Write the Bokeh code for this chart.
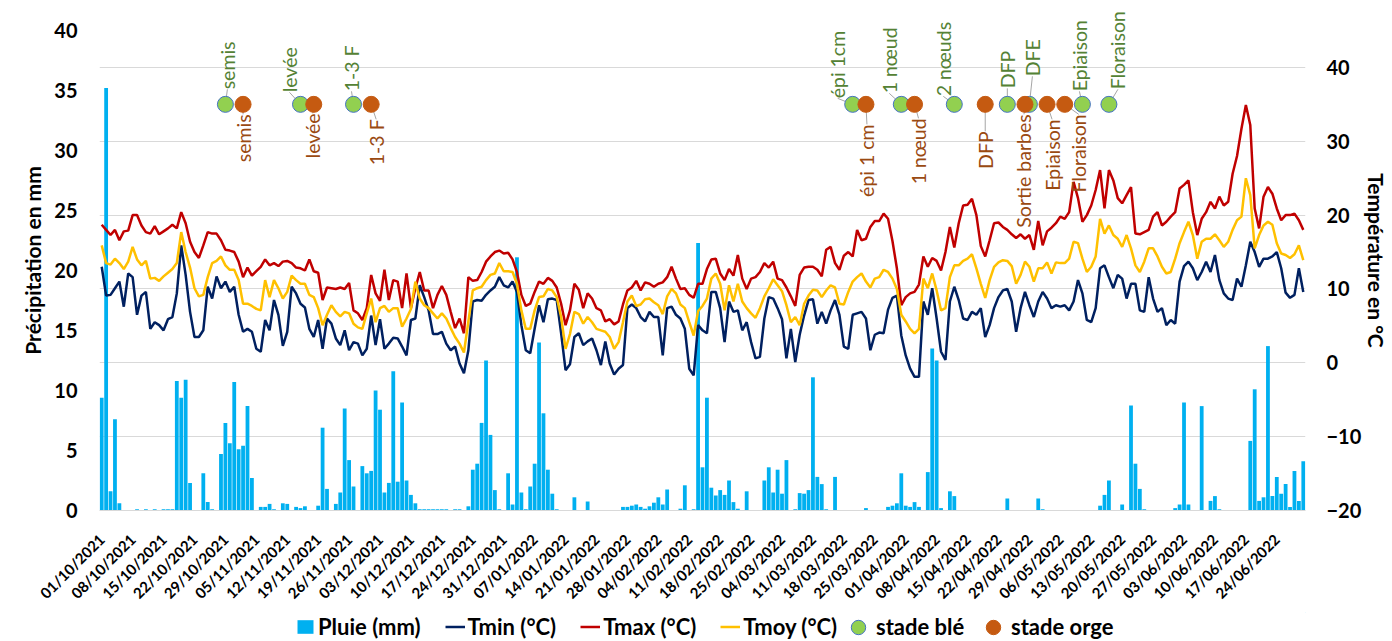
import pandas as pd
from math import pi
from bokeh.plotting import figure
from bokeh.layouts import column
from bokeh.models import (Range1d, LinearAxis, FixedTicker, Grid, Legend, LegendItem,
                          DatetimeTickFormatter)
from bokeh.embed import file_html
from bokeh.resources import INLINE
from bokeh.core.properties import value

# ---------------- data ----------------
dates = pd.date_range("2021-10-01", "2022-06-30", freq="D")

pluie = [9.4, 35.2, 1.6, 7.6, 0.6, 0, 0, 0, 0.1, 0, 0.1, 0, 0.1, 0, 0.1, 0.1, 0.1, 10.8, 9.4, 10.9,
         2.3, 0, 0, 3.1, 0.7, 0.1, 0, 4.7, 7.3, 5.6, 10.7, 5.1, 5.4, 8.7, 2.7, 0, 0.3, 0.3, 0.55, 0.1,
         0, 0.6, 0.55, 0, 0.3, 0.2, 0.35, 0, 0, 0.4, 6.9, 1.8, 0, 0.55, 1.5, 8.5, 4.2, 2.0, 0, 3.7,
         3.1, 3.3, 10.0, 8.4, 1.5, 2.3, 11.6, 2.4, 9.0, 2.5, 1.3, 0.6, 0.1, 0.1, 0.1, 0.1, 0.1, 0.1, 0.1, 0,
         0.1, 0.1, 0, 0.35, 3.4, 3.9, 7.3, 12.5, 6.3, 1.7, 0.1, 0, 3.1, 0.5, 21.1, 1.5, 0.1, 2.0, 3.9, 14.0,
         8.1, 3.4, 1.4, 0.1, 0, 0.05, 0, 1.1, 0, 0, 0.75, 0, 0, 0, 0, 0.05, 0.05, 0.05, 0.3, 0.3,
         0.4, 0.5, 0.3, 0.15, 0.35, 0.65, 1.1, 0.5, 1.75, 0, 0, 0.15, 2.1, 0, 0.1, 22.3, 3.6, 9.4, 1.9, 1.25,
         1.7, 1.3, 2.5, 0.7, 0.15, 0, 1.6, 0, 0, 0, 2.5, 3.6, 1.5, 3.4, 1.4, 4.2, 0, 0.1, 1.45, 1.4,
         1.7, 11.1, 2.8, 2.2, 0.1, 0, 2.8, 0, 0, 0, 0, 0, 0, 0.2, 0, 0, 0, 0, 0.3, 0.4,
         0.6, 3.1, 0.4, 0.3, 0.7, 0.3, 0, 3.2, 13.5, 12.5, 0.2, 0, 1.6, 1.2, 0.05, 0, 0, 0.05, 0.05, 0,
         0, 0, 0, 0, 0.05, 1.0, 0, 0, 0, 0, 0, 0, 1.0, 0.1, 0, 0, 0, 0, 0.05, 0,
         0, 0.05, 0, 0, 0.05, 0, 0.4, 1.3, 2.5, 0, 0, 0.5, 0, 8.75, 3.9, 1.8, 0.1, 0, 0.05, 0,
         0, 0, 0, 0.2, 0.5, 9.0, 0.5, 0, 0, 8.7, 0, 0.8, 1.2, 0.1, 0, 0, 0, 0, 0, 0,
         5.8, 10.1, 0.8, 1.1, 13.7, 1.2, 2.8, 1.4, 2.2, 0.3, 3.3, 0.8, 4.1]

tmin = [13.0, 9.1, 9.2, 10.1, 11.0, 7.6, 12.1, 11.6, 6.5, 9.1, 9.6, 4.6, 5.5, 5.1, 4.4, 5.9, 6.2, 9.4, 15.9, 11.9,
        6.9, 3.5, 3.5, 4.4, 10.3, 8.7, 11.7, 10.1, 11.0, 9.6, 10.3, 6.5, 4.2, 4.6, 4.2, 1.9, 1.5, 5.8, 4.4, 8.5,
        6.5, 2.3, 4.2, 10.3, 9.4, 8.0, 7.5, 4.6, 3.5, 5.8, 1.9, 6.0, 5.3, 3.3, 2.4, 4.4, 1.7, 2.8, 2.6, 1.0,
        1.9, 6.4, 2.4, 5.9, 1.9, 2.6, 3.4, 3.3, 2.2, 1.0, 5.8, 6.0, 10.5, 8.9, 7.1, 3.9, 3.9, 4.2, 2.6, 1.7,
        2.2, -0.1, -1.4, 1.7, 8.3, 8.5, 8.4, 9.2, 9.8, 10.3, 11.6, 10.5, 10.2, 11.0, 9.6, 5.1, 1.7, 1.3, 4.6, 7.8,
        5.5, 8.6, 8.7, 8.5, 4.0, -1.0, -0.2, 3.5, 4.0, 2.4, 2.9, 3.3, 1.7, -0.3, 2.9, -0.1, -1.6, -0.8, -0.3, 7.4,
        7.9, 7.4, 6.2, 5.6, 6.9, 6.2, 6.2, 1.0, 7.4, 7.6, 6.5, 6.0, 4.6, -0.8, -1.7, 5.1, 4.4, 4.0, 9.6, 9.6,
        7.4, 2.8, 8.3, 6.9, 7.1, 4.4, 5.5, 2.8, 0.6, 0.8, 6.0, 8.9, 8.7, 7.4, 5.9, 0.6, 4.6, 0.1, 3.8, 6.4,
        8.5, 8.6, 5.3, 6.9, 5.3, 7.1, 8.5, 6.5, 2.2, 1.9, 6.5, 6.7, 6.9, 6.0, 1.7, 3.8, 4.1, 4.0, 7.2, 8.8,
        9.1, 3.7, 1.0, -0.8, -1.9, -1.9, 8.3, 6.5, 10.1, 6.0, 1.5, 0.4, 8.3, 10.3, 8.5, 6.0, 5.8, 6.9, 6.5, 7.4,
        3.5, 5.1, 7.4, 8.9, 9.8, 10.0, 8.3, 4.2, 7.4, 9.6, 7.8, 6.2, 8.3, 9.6, 8.7, 7.4, 7.8, 7.6, 7.8, 7.1,
        8.3, 11.2, 9.4, 5.8, 5.5, 7.4, 12.8, 13.2, 11.6, 10.1, 11.9, 11.4, 8.7, 10.7, 10.7, 7.1, 6.9, 11.6, 8.7, 6.9,
        7.4, 5.1, 5.8, 5.3, 11.0, 13.1, 13.7, 12.8, 11.2, 12.3, 13.7, 12.3, 14.6, 11.2, 9.4, 8.7, 8.5, 11.4, 10.3, 13.2,
        16.4, 15.0, 13.0, 14.1, 14.1, 14.4, 15.0, 12.8, 9.5, 8.8, 9.2, 12.8, 9.6]

tmax = [18.7, 18.0, 17.3, 18.0, 16.6, 17.8, 17.9, 20.0, 20.0, 18.6, 17.7, 17.5, 18.5, 17.4, 17.8, 18.2, 18.7, 18.2, 20.4, 18.9,
        16.4, 15.0, 14.2, 15.9, 17.7, 17.5, 17.5, 16.6, 15.3, 15.2, 15.0, 13.7, 11.6, 12.9, 11.8, 12.4, 13.0, 14.0, 13.2, 13.5,
        13.1, 13.7, 13.8, 13.5, 12.9, 12.8, 12.5, 14.0, 12.4, 12.2, 8.5, 10.2, 10.1, 10.0, 10.2, 10.0, 10.8, 7.1, 6.7, 5.8,
        7.4, 11.9, 9.4, 8.4, 12.6, 8.5, 11.2, 11.0, 7.4, 12.1, 7.4, 10.1, 12.3, 9.8, 9.8, 7.4, 9.2, 10.4, 9.2, 6.9,
        4.7, 6.0, 4.0, 11.6, 11.1, 11.2, 12.3, 13.7, 14.4, 15.0, 15.2, 14.8, 14.9, 14.0, 12.3, 9.2, 7.7, 8.0, 9.6, 11.0,
        10.7, 11.5, 11.1, 10.2, 8.0, 5.1, 7.1, 10.7, 9.9, 7.4, 9.4, 8.7, 7.4, 7.1, 5.6, 5.9, 5.2, 5.6, 7.9, 9.8,
        10.2, 11.1, 9.8, 10.9, 10.7, 10.3, 10.7, 10.9, 11.6, 13.0, 11.4, 10.0, 10.1, 9.2, 8.8, 10.7, 10.7, 12.7, 14.0, 14.1,
        12.1, 11.2, 12.7, 11.8, 14.6, 11.4, 10.0, 11.4, 11.6, 12.3, 13.5, 12.9, 13.7, 11.4, 11.2, 10.2, 9.0, 7.7, 11.9, 12.9,
        13.0, 13.0, 12.6, 11.7, 15.3, 15.7, 13.5, 12.6, 14.5, 15.0, 14.4, 18.0, 16.6, 16.8, 18.4, 19.2, 19.2, 20.2, 19.5, 16.5,
        12.8, 7.8, 8.9, 9.4, 9.6, 10.6, 14.4, 13.0, 14.2, 13.8, 12.5, 15.0, 18.4, 15.6, 18.9, 21.3, 21.4, 22.2, 20.0, 15.8,
        14.4, 16.6, 18.9, 19.0, 18.4, 18.0, 17.4, 16.9, 17.4, 16.8, 17.3, 15.3, 19.2, 15.9, 17.8, 18.3, 18.9, 19.8, 19.5, 20.4,
        24.5, 22.3, 19.1, 20.0, 21.3, 23.4, 26.1, 20.9, 26.1, 24.7, 22.3, 21.6, 22.7, 23.8, 17.5, 17.4, 17.7, 18.0, 19.8, 20.4,
        18.6, 19.1, 19.8, 20.4, 23.6, 24.1, 24.7, 20.4, 17.3, 19.5, 20.4, 21.8, 20.9, 22.5, 21.3, 21.8, 25.6, 28.0, 31.7, 34.9,
        32.2, 20.9, 18.2, 22.5, 23.8, 22.9, 20.9, 19.3, 20.0, 20.0, 20.2, 19.3, 18.0]

tmoy = [15.9, 13.5, 13.3, 14.1, 13.5, 12.7, 13.7, 15.7, 14.0, 13.2, 13.8, 11.4, 11.5, 11.1, 11.7, 12.2, 12.7, 13.5, 17.7, 15.0,
        12.9, 10.1, 9.0, 9.2, 11.6, 13.5, 13.8, 14.4, 13.2, 12.6, 12.6, 11.2, 8.0, 8.0, 7.7, 7.3, 7.1, 11.2, 8.9, 11.2,
        10.1, 8.7, 9.6, 11.8, 11.2, 10.7, 10.7, 9.2, 8.9, 7.4, 5.1, 6.5, 7.8, 6.9, 6.3, 6.9, 6.7, 5.3, 4.8, 4.6,
        6.7, 8.7, 5.5, 7.4, 7.7, 6.9, 7.4, 7.4, 4.9, 6.0, 7.3, 11.0, 8.7, 7.8, 7.4, 6.7, 6.0, 6.7, 6.0, 4.7,
        3.5, 2.6, 1.4, 5.6, 9.8, 10.1, 10.3, 11.2, 11.9, 12.1, 13.5, 12.4, 12.4, 12.3, 10.7, 7.1, 4.6, 4.6, 7.1, 8.9,
        9.0, 10.0, 9.8, 8.9, 6.2, 1.9, 3.9, 6.9, 6.6, 5.3, 6.2, 5.5, 4.6, 4.4, 4.2, 3.5, 1.9, 2.8, 5.5, 8.3,
        9.1, 7.7, 7.9, 8.6, 8.7, 8.2, 7.8, 6.6, 9.0, 10.0, 9.4, 7.9, 7.4, 5.5, 3.7, 7.0, 7.7, 8.7, 11.4, 12.1,
        10.7, 7.1, 10.5, 8.3, 10.7, 8.3, 7.4, 6.7, 6.1, 7.4, 9.0, 10.1, 11.3, 10.5, 9.7, 7.8, 5.5, 6.2, 5.1, 8.0,
        9.1, 9.9, 9.8, 8.9, 9.8, 10.5, 10.2, 8.0, 7.9, 9.6, 11.0, 11.6, 12.1, 11.0, 10.2, 11.4, 11.6, 12.6, 12.3, 11.4,
        10.0, 6.5, 5.6, 4.6, 4.0, 4.6, 11.4, 10.1, 12.1, 9.8, 7.1, 7.4, 11.6, 13.2, 13.2, 13.8, 14.1, 14.7, 12.8, 10.7,
        8.8, 11.2, 13.0, 13.6, 13.9, 13.8, 13.1, 10.7, 11.9, 13.7, 13.0, 11.0, 12.8, 12.8, 13.6, 12.1, 13.6, 13.5, 13.5, 14.1,
        16.4, 16.2, 14.1, 12.3, 13.0, 14.4, 19.5, 17.5, 18.6, 17.3, 16.8, 15.7, 17.3, 15.5, 13.2, 12.3, 13.7, 15.5, 15.5, 14.4,
        13.0, 12.1, 12.3, 14.1, 16.2, 17.7, 19.1, 17.3, 14.1, 16.4, 16.8, 16.8, 17.4, 16.6, 15.7, 16.4, 18.0, 19.3, 19.8, 25.0,
        22.7, 15.5, 17.3, 18.6, 19.1, 18.7, 16.2, 14.8, 14.6, 14.2, 14.7, 15.9, 13.9]

# crop stages (stade blé = wheat, stade orge = barley)
ble_dates = ["2021-10-29", "2021-11-15", "2021-11-27", "2022-03-20", "2022-03-31",
             "2022-04-12", "2022-04-24", "2022-04-29", "2022-05-11", "2022-05-17"]
ble_labels = ["semis", "levée", "1-3 F", "épi 1cm", "1 nœud", "2 nœuds", "DFP", "DFE",
              "Epiaison", "Floraison"]
orge_dates = ["2021-11-02", "2021-11-18", "2021-12-01", "2022-03-23", "2022-04-03",
              "2022-04-19", "2022-04-28", "2022-05-03", "2022-05-07"]
orge_labels = ["semis", "levée", "1-3 F", "épi 1 cm", "1 nœud", "DFP", "Sortie barbes",
               "Epiaison", "Floraison"]
stage_level = 35

tick_dates = dates[::7]

# ---------------- layout / style ----------------
FONT = "Lato"
PX_PER_MM = 12.0                  # left axis scale (0..40 over 480 px)
DEG_PER_PX = 65 / 480             # right axis scale (-20..45 over 480 px)
FRAME_H = 500                     # frame reaches 20 px above the 40 tick (room for labels)
FRAME_W = 1206
DAY_MS = 86400000
MS_PER_PX = len(dates) * DAY_MS / FRAME_W

C_RAIN, C_MIN, C_MAX, C_MOY = "#00B0F0", "#002060", "#C00000", "#FFC000"
C_BLE, C_BLE_LINE, C_ORGE = "#92D050", "#4472C4", "#C55A11"

# label offsets (px): dx horizontal, dy distance from marker centre
ble_dx = [2, -11, -2, -15, -12, -11, 0, 3, -3, 9]
ble_dy = [15, 12, 13, 6, 11, 8, 16, 28, 13, 15]
orge_dx = [0, -1, 5, 1, 4, 0, -1, 5, 14]
orge_dy = [10, 9, 15, 20, 14, 27, 10, 15, 10]

x_start = dates[0] - pd.Timedelta(hours=12)
x_end = dates[-1] + pd.Timedelta(hours=12)

p = figure(width=1392, height=612, x_axis_type="datetime",
           x_range=Range1d(x_start, x_end), y_range=Range1d(0, FRAME_H / PX_PER_MM),
           output_backend="svg", toolbar_location=None,
           min_border_left=99, min_border_right=87, min_border_top=10, min_border_bottom=102)
p.extra_y_ranges = {"temp": Range1d(-20, -20 + FRAME_H * DEG_PER_PX)}
p.outline_line_color = None
p.background_fill_color = "white"
p.border_fill_color = "white"
p.xgrid.visible = False
p.ygrid.visible = False

temp_ticker = FixedTicker(ticks=list(range(-20, 41, 10)))
p.add_layout(Grid(dimension=1, ticker=temp_ticker, y_range_name="temp",
                  grid_line_color="#d9d9d9", grid_line_width=1))

# bars
p.vbar(x=dates, top=pluie, width=0.86 * DAY_MS, fill_color=C_RAIN, line_color=None)

# lines
p.line(dates, tmin, y_range_name="temp", line_color=C_MIN, line_width=2.5)
p.line(dates, tmax, y_range_name="temp", line_color=C_MAX, line_width=2.5)
p.line(dates, tmoy, y_range_name="temp", line_color=C_MOY, line_width=2.5)

# stages
ble_x = pd.to_datetime(ble_dates)
orge_x = pd.to_datetime(orge_dates)

# leader lines
lx0, ly0, lx1, ly1 = [], [], [], []
for d, dx, dy in zip(ble_x, ble_dx, ble_dy):
    lx0.append(d); ly0.append(stage_level)
    lx1.append(d + pd.Timedelta(milliseconds=dx * MS_PER_PX)); ly1.append(stage_level + dy * DEG_PER_PX)
for d, dx, dy in zip(orge_x, orge_dx, orge_dy):
    lx0.append(d); ly0.append(stage_level)
    lx1.append(d + pd.Timedelta(milliseconds=dx * MS_PER_PX)); ly1.append(stage_level - dy * DEG_PER_PX)
p.segment(x0=lx0, y0=ly0, x1=lx1, y1=ly1, y_range_name="temp", line_color="#a6a6a6", line_width=1)

p.scatter(ble_x, [stage_level] * len(ble_x), y_range_name="temp", size=16,
          fill_color=C_BLE, line_color=C_BLE_LINE, line_width=1)
p.scatter(orge_x, [stage_level] * len(orge_x), y_range_name="temp", size=16,
          fill_color=C_ORGE, line_color=C_ORGE, line_width=1)

p.text(x=ble_x, y=[stage_level + dy * DEG_PER_PX for dy in ble_dy], text=ble_labels,
       x_offset=ble_dx, angle=pi / 2, y_range_name="temp",
       text_align="left", text_baseline="middle", text_font=value(FONT),
       text_font_size="19.5px", text_color="#548235")
p.text(x=orge_x, y=[stage_level - dy * DEG_PER_PX for dy in orge_dy], text=orge_labels,
       x_offset=orge_dx, angle=pi / 2, y_range_name="temp",
       text_align="right", text_baseline="middle", text_font=value(FONT),
       text_font_size="19.5px", text_color="#9A4A12")

# axes
left = p.yaxis[0]
left.ticker = FixedTicker(ticks=list(range(0, 41, 5)))
left.axis_label = "Précipitation en mm"

right = LinearAxis(y_range_name="temp", ticker=temp_ticker, axis_label="Température en °C")
p.add_layout(right, "right")

for ax in (left, right):
    ax.axis_line_color = None
    ax.major_tick_line_color = None
    ax.minor_tick_line_color = None
    ax.major_tick_out = 0
    ax.major_tick_in = 0
    ax.major_label_text_font = FONT
    ax.major_label_text_font_style = "bold"
    ax.major_label_text_font_size = "20px"
    ax.major_label_text_color = "black"
    ax.axis_label_text_font = FONT
    ax.axis_label_text_font_style = "bold"
    ax.axis_label_text_font_size = "21px"
    ax.axis_label_text_color = "black"
left.major_label_standoff = 22
left.axis_label_standoff = 6
right.major_label_standoff = 21
right.axis_label_standoff = 0

xa = p.xaxis[0]
xa.ticker = FixedTicker(ticks=[int(t.value // 10**6) for t in tick_dates])
fmt = "%d/%m/%Y"
xa.formatter = DatetimeTickFormatter(microseconds=fmt, milliseconds=fmt, seconds=fmt, minsec=fmt,
                                     minutes=fmt, hourmin=fmt, hours=fmt, days=fmt,
                                     months=fmt, years=fmt)
xa.major_label_orientation = pi / 4
xa.major_label_text_font = FONT
xa.major_label_text_font_style = "bold"
xa.major_label_text_font_size = "15px"
xa.major_label_text_color = "black"
xa.major_label_standoff = 26
xa.axis_line_color = "#d9d9d9"
xa.major_tick_line_color = None
xa.minor_tick_line_color = None
xa.major_tick_out = 0
xa.major_tick_in = 0

# ---------------- legend row (own small figure under the chart) ----------------
lg = figure(width=1392, height=29, x_range=Range1d(0, 1), y_range=Range1d(0, 1),
            x_axis_type=None, y_axis_type=None, output_backend="svg",
            toolbar_location=None, min_border=0)
lg.outline_line_color = None
lg.xgrid.visible = False
lg.ygrid.visible = False
# legend keys: one point each, placed outside the visible range
r_bar = lg.vbar(x=[5], top=[5], bottom=[4], width=0.1, fill_color=C_RAIN, line_color=None)
r_min = lg.line(x=[5, 6], y=[5, 5], line_color=C_MIN, line_width=2.5)
r_max = lg.line(x=[5, 6], y=[5, 5], line_color=C_MAX, line_width=2.5)
r_moy = lg.line(x=[5, 6], y=[5, 5], line_color=C_MOY, line_width=2.5)
r_ble = lg.scatter(x=[5], y=[5], size=15, fill_color=C_BLE, line_color=C_BLE_LINE, line_width=1)
r_orge = lg.scatter(x=[5], y=[5], size=15, fill_color=C_ORGE, line_color=C_ORGE, line_width=1)


def style_legend(lgd, gw, gh, standoff):
    lgd.label_text_font = FONT
    lgd.label_text_font_style = "bold"
    lgd.label_text_font_size = "22px"
    lgd.label_text_color = "black"
    lgd.glyph_width = gw
    lgd.glyph_height = gh
    lgd.label_standoff = standoff
    lgd.spacing = 24
    lgd.padding = 0
    lgd.margin = 0
    lgd.border_line_color = None
    lgd.background_fill_alpha = 0


leg_a = Legend(items=[
    LegendItem(label="Pluie (mm)", renderers=[r_bar]),
    LegendItem(label="Tmin (°C)", renderers=[r_min]),
    LegendItem(label="Tmax (°C)", renderers=[r_max]),
    LegendItem(label="Tmoy (°C)", renderers=[r_moy]),
], location=(196, 1), orientation="horizontal")
style_legend(leg_a, 20, 17, 3)
lg.add_layout(leg_a)

# marker keys need a larger glyph box so the dots are drawn at full size
leg_b = Legend(items=[LegendItem(label="stade blé", renderers=[r_ble])],
               location=(741, -3.5), orientation="horizontal")
style_legend(leg_b, 36, 36, 0)
lg.add_layout(leg_b)
leg_c = Legend(items=[LegendItem(label="stade orge", renderers=[r_orge])],
               location=(876, -3.5), orientation="horizontal")
style_legend(leg_c, 36, 36, 0)
lg.add_layout(leg_c)

layout = column(p, lg, spacing=0)
open("out.html", "w").write(file_html(layout, INLINE))
